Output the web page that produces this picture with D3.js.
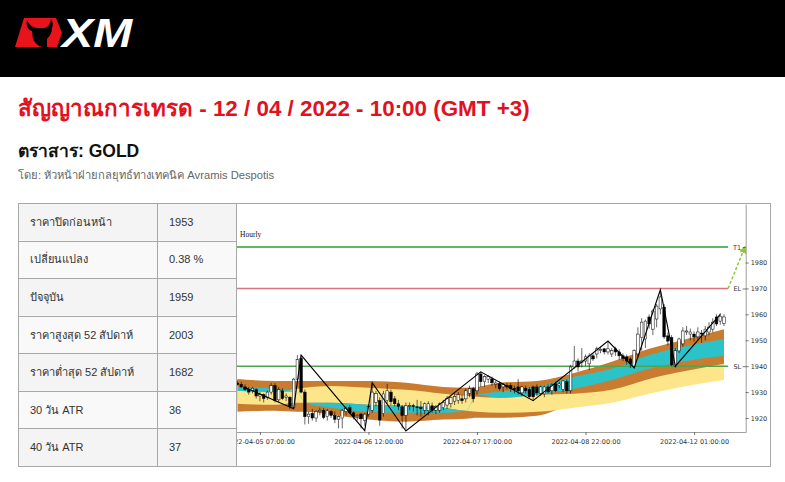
<!DOCTYPE html>
<html><head><meta charset="utf-8">
<script src="https://cdn.jsdelivr.net/npm/d3@7"></script>
<style>body{margin:0;background:#fff;} svg{display:block}</style>
</head><body>
<svg id="c" width="785" height="482"></svg>
<script>
// ---------- DATA ----------
const titleText = "สัญญาณการเทรด - 12 / 04 / 2022 - 10:00 (GMT +3)";
const instrumentText = "ตราสาร: GOLD";
const authorText = "โดย: หัวหน้าฝ่ายกลยุทธ์ทางเทคนิค Avramis Despotis";
const tableLabels = ["ราคาปิดก่อนหน้า","เปลี่ยนแปลง","ปัจจุบัน","ราคาสูงสุด 52 สัปดาห์","ราคาต่ำสุด 52 สัปดาห์","30 วัน ATR","40 วัน ATR"];
const tableValues = ["1953","0.38 %","1959","2003","1682","36","37"];

const xTickIdx = [6, 35, 64, 93, 122];
const xTickLabels = ["2022-04-05 07:00:00","2022-04-06 12:00:00","2022-04-07 17:00:00","2022-04-08 22:00:00","2022-04-12 01:00:00"];
const yTicks = [1920, 1930, 1940, 1950, 1960, 1970, 1980];
const levelNames = ["T1", "EL", "SL"];
const levelValues = [1986, 1970, 1940];

const opens = [
1933.5,1933.0,1932.0,1931.0,1930.5,1931.0,1928.5,1929.0,1928.0,1930.0,
1932.5,1927.0,1930.5,1928.0,1928.0,1924.0,1935.0,1943.0,1930.0,1920.5,
1921.8,1920.0,1922.5,1923.0,1920.5,1922.5,1921.0,1919.5,1920.0,1922.5,
1924.0,1922.0,1920.5,1921.5,1919.0,1921.5,1923.0,1926.0,1926.7,1921.7,
1926.7,1930.0,1927.4,1925.5,1924.3,1921.0,1924.5,1924.8,1924.3,1924.0,
1923.0,1922.8,1924.7,1923.0,1923.0,1924.0,1925.0,1925.5,1926.5,1926.8,
1927.4,1927.4,1929.5,1931.3,1930.5,1937.0,1934.0,1935.0,1935.1,1933.0,
1933.2,1932.0,1932.5,1932.5,1931.5,1932.0,1929.7,1931.5,1931.0,1932.0,
1932.0,1929.5,1929.3,1932.0,1930.5,1933.2,1932.5,1931.0,1934.0,1930.5,
1939.7,1942.0,1941.5,1942.0,1940.9,1944.0,1944.7,1946.0,1946.7,1945.5,
1944.7,1946.7,1945.5,1944.0,1943.6,1942.8,1940.0,1944.7,1951.0,1950.5,
1959.0,1954.3,1958.2,1962.1,1962.8,1951.7,1951.0,1940.0,1945.9,1948.6,
1953.2,1952.4,1952.4,1951.3,1952.8,1951.7,1953.2,1954.3,1959.0,1957.4,
1956.5];
const highs = [
1934.5,1934.0,1933.0,1932.0,1932.0,1931.5,1930.0,1929.5,1930.5,1933.5,
1933.5,1932.0,1931.5,1929.5,1928.5,1935.5,1944.3,1944.3,1931.0,1922.5,
1923.5,1923.0,1924.0,1923.8,1923.5,1923.0,1922.5,1921.0,1923.5,1924.5,
1925.0,1922.5,1921.5,1922.0,1922.0,1925.0,1933.6,1930.5,1928.0,1930.5,
1933.2,1931.0,1928.5,1927.0,1925.0,1926.0,1926.0,1925.5,1927.0,1926.5,
1926.0,1926.5,1926.0,1925.0,1926.0,1927.0,1928.5,1929.0,1929.5,1930.0,
1929.0,1931.5,1932.5,1932.0,1937.8,1937.8,1936.5,1936.5,1936.0,1934.5,
1934.0,1933.5,1933.5,1933.5,1932.5,1935.0,1932.5,1932.5,1932.0,1932.5,
1933.0,1932.5,1932.5,1933.0,1933.5,1934.0,1934.0,1934.5,1935.0,1940.5,
1947.8,1943.0,1947.0,1944.5,1945.0,1945.0,1947.5,1947.5,1947.0,1949.7,
1947.0,1947.5,1946.5,1945.0,1944.5,1943.5,1946.5,1955.0,1958.5,1958.0,
1960.0,1962.0,1964.0,1969.5,1964.0,1953.0,1952.0,1947.0,1951.0,1955.0,
1955.5,1954.5,1953.5,1955.0,1954.0,1955.5,1957.0,1958.5,1960.0,1960.5,
1960.0];
const lows = [
1932.5,1931.5,1930.5,1929.0,1929.5,1927.5,1926.5,1926.0,1927.0,1929.0,
1926.0,1926.0,1927.0,1926.5,1923.5,1923.5,1934.5,1929.5,1917.5,1917.8,
1919.0,1918.5,1921.0,1919.5,1919.0,1920.0,1918.0,1916.0,1916.0,1921.0,
1921.5,1919.5,1919.0,1916.0,1917.0,1920.5,1922.0,1924.5,1917.0,1920.5,
1925.5,1925.0,1924.5,1923.0,1916.0,1915.5,1923.0,1922.5,1921.0,1920.5,
1921.5,1921.0,1922.0,1921.5,1922.0,1923.0,1923.5,1924.0,1925.0,1925.5,
1925.5,1926.0,1928.0,1926.0,1929.0,1932.0,1932.0,1933.5,1932.5,1931.5,
1930.5,1930.0,1931.0,1930.0,1929.5,1929.0,1928.5,1929.5,1927.5,1926.7,
1928.5,1928.5,1928.0,1929.5,1929.0,1930.0,1931.5,1930.0,1929.5,1929.5,
1939.0,1938.0,1939.5,1940.0,1938.5,1942.0,1943.0,1945.0,1944.5,1944.5,
1943.5,1944.0,1942.5,1942.0,1940.5,1939.3,1939.5,1943.5,1946.0,1947.0,
1954.5,1952.0,1955.0,1960.0,1950.5,1948.0,1940.0,1939.5,1945.0,1947.5,
1952.0,1950.0,1949.5,1950.0,1949.0,1950.0,1952.0,1953.0,1955.5,1956.0,
1955.5];
const closes = [
1933.0,1932.0,1931.0,1930.0,1931.5,1928.5,1929.0,1927.5,1930.0,1932.5,
1926.8,1931.0,1927.5,1928.5,1924.5,1935.0,1942.5,1930.0,1920.5,1921.5,
1920.0,1922.5,1923.0,1920.2,1922.8,1921.0,1919.5,1920.5,1923.0,1923.8,
1922.0,1920.5,1921.0,1919.7,1921.5,1924.5,1930.0,1929.5,1919.2,1929.3,
1930.5,1926.3,1925.5,1924.5,1921.0,1924.7,1924.8,1924.5,1924.0,1923.6,
1925.5,1925.5,1923.0,1924.5,1925.5,1926.0,1927.5,1928.0,1928.3,1929.0,
1926.7,1930.5,1931.3,1927.4,1937.0,1934.0,1936.0,1936.0,1933.6,1933.5,
1931.3,1933.0,1932.0,1931.3,1931.0,1930.5,1932.0,1930.5,1928.2,1928.2,
1929.7,1932.0,1932.0,1930.1,1932.8,1930.5,1933.2,1934.3,1930.5,1939.7,
1942.0,1939.7,1942.0,1943.6,1944.0,1942.8,1946.7,1946.5,1945.5,1946.7,
1946.0,1945.5,1944.0,1943.0,1942.0,1940.9,1946.0,1952.4,1957.0,1957.4,
1956.3,1961.3,1963.2,1966.7,1951.3,1949.7,1940.5,1946.0,1950.5,1953.6,
1953.6,1953.2,1951.3,1953.2,1952.4,1954.3,1955.1,1957.0,1956.3,1959.3,
1959.0];

const zigIdx = [2, 15, 17, 34, 36, 45, 65, 79, 99, 106, 113, 117, 129];
const zigVal = [1931.8, 1923.6, 1944.3, 1915.1, 1933.6, 1915.0, 1937.8, 1926.7, 1949.7, 1939.3, 1969.5, 1940.0, 1960.0];

const bandIdx  = [0, 10, 16, 18, 25, 35, 45, 55, 61, 64, 70, 80, 90, 100, 110, 120, 130];
const orangeHi = [1935.1,1934.3,1934.3,1934.3,1934.3,1934.3,1933.6,1932.0,1931.7,1932.0,1933.6,1934.3,1937.4,1941.7,1946.7,1950.5,1954.3];
const orangeLo = [1922.4,1922.8,1922.4,1922.4,1921.3,1919.4,1918.6,1919.4,1919.7,1920.1,1920.1,1920.9,1925.5,1928.2,1931.3,1935.1,1938.2];
const yellowHi = [1930.5,1930.1,1931.3,1931.7,1932.4,1931.7,1930.9,1929.4,1928.6,1928.2,1927.8,1929.0,1929.4,1930.9,1935.1,1938.2,1940.9];
const yellowLo = [1925.5,1925.1,1925.9,1925.9,1925.9,1925.1,1924.7,1924.0,1922.8,1922.4,1922.0,1922.4,1924.0,1925.9,1929.4,1932.4,1934.7];
const cyanHi   = [1932.0,1931.3,1930.1,1925.9,1925.9,1925.1,1924.7,1924.0,1922.8,1929.0,1930.1,1932.0,1935.9,1939.0,1944.3,1947.8,1950.5];
const cyanLo   = [1930.5,1930.1,1930.1,1925.9,1924.0,1922.4,1922.0,1922.0,1922.8,1929.0,1927.8,1929.0,1931.3,1934.7,1939.0,1942.0,1944.0];

// ---------- DRAW ----------
const svg = d3.select("#c");
const sans = "Arial, 'Liberation Sans', 'Noto Sans', sans-serif";

// header band + logo
svg.append("rect").attr("x",0).attr("y",0).attr("width",785).attr("height",77).attr("fill","#000");
svg.append("path").attr("d","M24,18 L56,18 L62,33 L57,47 L15,47 Z").attr("fill","#e8141c");
svg.append("path").attr("d","M27,20 Q25,29 32,31 L33,39 Q36,46 43,47 L47,47 L47,39 Q52,34 52,28 Q54,23 51,19 Q50,26 45,28 L37,28 Q30,27 27,20 Z").attr("fill","#000");
svg.append("text").attr("x",62).attr("y",47).attr("font-family",sans).attr("font-weight","bold")
  .attr("font-style","italic").attr("font-size",41).attr("fill","#fff").attr("textLength",70)
  .attr("lengthAdjust","spacingAndGlyphs").text("XM");

// titles
svg.append("text").attr("x",18).attr("y",116).attr("font-family",sans).attr("font-weight","bold")
  .attr("font-size",22.4).attr("fill","#e3101e").text(titleText);
svg.append("text").attr("x",18).attr("y",157).attr("font-family",sans).attr("font-weight","bold")
  .attr("font-size",17.5).attr("fill","#111").text(instrumentText);
svg.append("text").attr("x",18).attr("y",179).attr("font-family",sans)
  .attr("font-size",11.2).attr("fill","#666").text(authorText);

// table
const tX0 = 18, tX1 = 157, tX2 = 236, tY0 = 203, tY1 = 466;
const rowH = (tY1 - tY0) / tableLabels.length;
const tg = svg.append("g");
tableLabels.forEach((lab, r) => {
  const yy = tY0 + r * rowH;
  tg.append("rect").attr("x",tX0).attr("y",yy).attr("width",tX2-tX0).attr("height",rowH)
    .attr("fill", r % 2 === 0 ? "#f4f4f4" : "#f9f9f9");
  tg.append("text").attr("x",30).attr("y",yy+rowH/2+4).attr("font-family",sans)
    .attr("font-size",11).attr("fill","#333").text(lab);
  tg.append("text").attr("x",169).attr("y",yy+rowH/2+4).attr("font-family",sans)
    .attr("font-size",11).attr("fill","#333").text(tableValues[r]);
  tg.append("line").attr("x1",tX0).attr("x2",r===0?770:tX2).attr("y1",Math.round(yy)+0.5).attr("y2",Math.round(yy)+0.5)
    .attr("stroke","#a8a8a8").attr("stroke-width",1);
});
tg.append("line").attr("x1",tX0).attr("x2",770).attr("y1",tY1+0.5).attr("y2",tY1+0.5).attr("stroke","#a8a8a8");
[tX0, tX1, tX2, 770].forEach(xx => tg.append("line").attr("x1",xx+0.5).attr("x2",xx+0.5)
  .attr("y1",tY0).attr("y2",tY1+1).attr("stroke","#a8a8a8"));

// chart
const x = d3.scaleLinear().domain([-0.4, 135.8]).range([236, 745.7]);
const y = d3.scaleLinear().domain([1914.6, 2002.6]).range([432, 204]);
const defs = svg.append("defs");
defs.append("clipPath").attr("id","cc").append("rect")
  .attr("x",237).attr("y",204).attr("width",533).attr("height",262);
defs.append("marker").attr("id","ah").attr("viewBox","0 0 10 10").attr("refX",8).attr("refY",5)
  .attr("markerWidth",5).attr("markerHeight",5).attr("orient","auto")
  .append("path").attr("d","M0,0 L10,5 L0,10 Z").attr("fill","#8dc63f");
const g = svg.append("g").attr("clip-path","url(#cc)");

const bands = bandIdx.map((d, k) => ({i: d, oh: orangeHi[k], ol: orangeLo[k], yh: yellowHi[k], yl: yellowLo[k], ch: cyanHi[k], cl: cyanLo[k]}));
const area = (hi, lo) => d3.area().x(d => x(d.i)).y0(d => y(d[lo])).y1(d => y(d[hi])).curve(d3.curveMonotoneX);
g.append("path").datum(bands).attr("d", area("oh","ol")).attr("fill","#c97b30");
g.append("path").datum(bands).attr("d", area("yh","yl")).attr("fill","#fde68a");
g.append("path").datum(bands).attr("d", area("ch","cl")).attr("fill","#2bc3c8");

// level lines
const lineColors = ["#2f9e2f", "#d9737b", "#4ea54e"];
const lineEnd = 131.1;
levelValues.forEach((v, k) => {
  g.append("line").attr("x1", x(-0.4)).attr("x2", x(lineEnd)).attr("y1", y(v)).attr("y2", y(v))
    .attr("stroke", lineColors[k]).attr("stroke-width", 1.6);
});

// candles
const bars = opens.map((o, i) => ({i, o, h: highs[i], l: lows[i], c: closes[i]}));
const bw = 2.6;
const cg = g.append("g");
cg.selectAll("line.w").data(bars).join("line").attr("class","w")
  .attr("x1", d => x(d.i)).attr("x2", d => x(d.i)).attr("y1", d => y(d.h)).attr("y2", d => y(d.l))
  .attr("stroke", "#000").attr("stroke-width", 0.6);
cg.selectAll("rect").data(bars).join("rect")
  .attr("x", d => x(d.i) - bw/2).attr("width", bw)
  .attr("y", d => y(Math.max(d.o, d.c)))
  .attr("height", d => Math.max(0.8, Math.abs(y(d.o) - y(d.c))))
  .attr("fill", d => d.c >= d.o ? "#fff" : "#000").attr("stroke","#000").attr("stroke-width",0.5);

// zigzag
g.append("path").datum(zigIdx.map((d,k)=>[d, zigVal[k]]))
  .attr("d", d3.line().x(d => x(d[0])).y(d => y(d[1])))
  .attr("fill","none").attr("stroke","#000").attr("stroke-width",1.1);

// target arrow
svg.append("line").attr("x1", x(lineEnd)).attr("y1", y(levelValues[1])).attr("x2", x(135.6)).attr("y2", y(levelValues[0]))
  .attr("stroke","#8dc63f").attr("stroke-width",1.5).attr("stroke-dasharray","3,2").attr("marker-end","url(#ah)");

// axes
const ax = g.append("g").attr("transform","translate(0,432)")
  .call(d3.axisBottom(x).tickValues(xTickIdx).tickFormat((d,k)=>xTickLabels[k]).tickSize(3).tickSizeOuter(0));
const ay = svg.append("g").attr("transform","translate(745.7,0)")
  .call(d3.axisRight(y).tickValues(yTicks).tickFormat(d3.format("d")).tickSize(3).tickSizeOuter(0).tickPadding(2));
const al = svg.append("g").attr("transform","translate(745.7,0)")
  .call(d3.axisLeft(y).tickValues(levelValues).tickFormat((d,k)=>levelNames[k]).tickSize(3).tickSizeOuter(0).tickPadding(1.5));
al.select(".domain").remove();
[ax, ay, al].forEach(a => {
  a.selectAll("text").attr("font-family","'DejaVu Sans', sans-serif").attr("font-size",6.5).attr("fill","#333");
  a.selectAll("line").attr("stroke","#555").attr("stroke-width",0.8);
  a.select(".domain").attr("stroke","#888").attr("stroke-width",0.8);
});
ax.selectAll("text").attr("dy","0.9em");

svg.append("text").attr("x",240).attr("y",237).attr("font-family","'Liberation Serif', 'DejaVu Serif', serif")
  .attr("font-size",7.5).attr("fill","#111").text("Hourly");
</script>
</body></html>
